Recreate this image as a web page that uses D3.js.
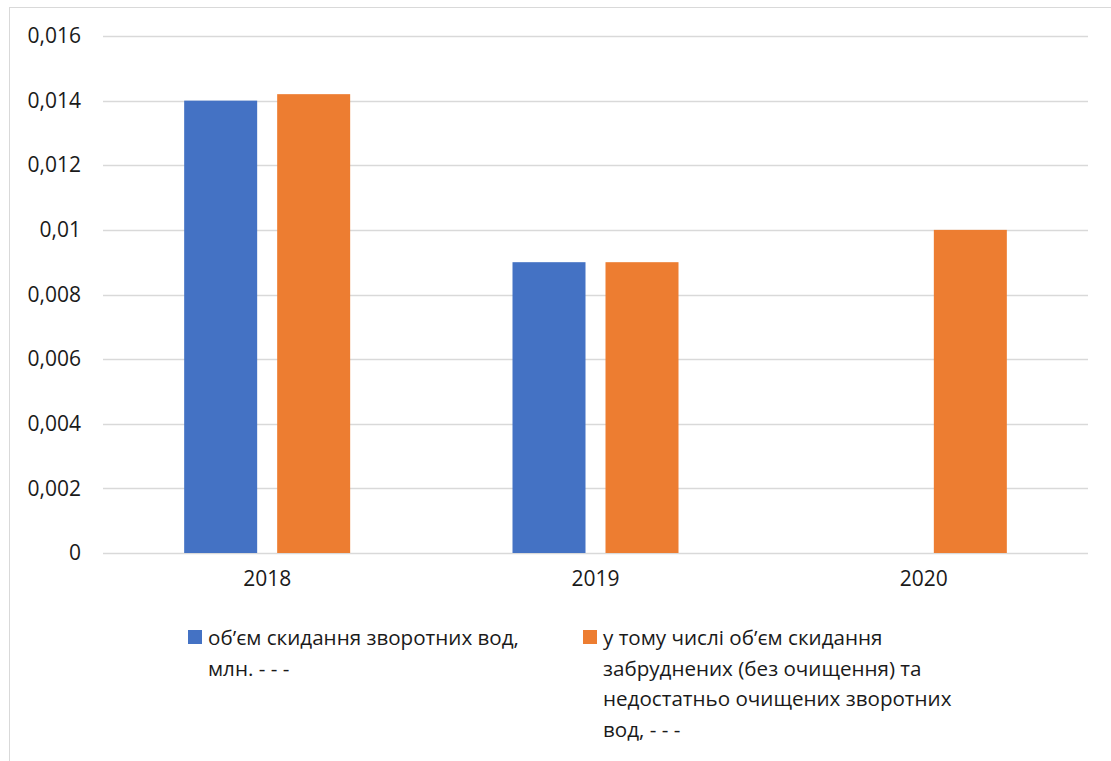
<!DOCTYPE html>
<html>
<head>
<meta charset="utf-8">
<script src="https://cdn.jsdelivr.net/npm/d3@7"></script>
<style>
  html, body { margin: 0; padding: 0; background: #fff; }
  svg { display: block; }
  text { font-family: "Open Sans", "Noto Sans", sans-serif; fill: #1a1a1a; }
</style>
</head>
<body>
<svg id="chart" width="1111" height="761"></svg>
<script>
// Years on the category axis
const years = ["2018", "2019", "2020"];
// Volume of return-water discharge, mln (no value reported for 2020)
const totalDischarge = [0.014, 0.009, null];
// Of which polluted (untreated) and insufficiently treated return waters
const pollutedDischarge = [0.0142, 0.009, 0.01];
// Value-axis tick labels
const yTicks = [0, 0.002, 0.004, 0.006, 0.008, 0.01, 0.012, 0.014, 0.016];
const yTickLabels = ["0", "0,002", "0,004", "0,006", "0,008", "0,01", "0,012", "0,014", "0,016"];
// Legend entries, already wrapped into lines
const seriesNames = [
  ["об’єм скидання зворотних вод,", "млн. - - -"],
  ["у тому числі об’єм скидання", "забруднених (без очищення) та", "недостатньо очищених зворотних", "вод, - - -"]
];
const seriesColors = ["#4472c4", "#ed7d31"];

const svg = d3.select("#chart");

// outer chart-area border (runs off the right and bottom edges)
svg.append("rect")
  .attr("x", 9.5).attr("y", 7.5)
  .attr("width", 1130).attr("height", 800)
  .attr("fill", "#fff").attr("stroke", "#d9d9d9").attr("stroke-width", 1);

const plot = { left: 103, right: 1088, top: 36, bottom: 553 };

const x = d3.scaleBand().domain(years)
  .range([plot.left, plot.right]).paddingInner(0).paddingOuter(0);
const y = d3.scaleLinear().domain([0, 0.016]).range([plot.bottom, plot.top]);

// horizontal gridlines
svg.append("g")
  .selectAll("line").data(yTicks).join("line")
  .attr("x1", plot.left).attr("x2", plot.right)
  .attr("y1", d => Math.round(y(d)) + 0.5).attr("y2", d => Math.round(y(d)) + 0.5)
  .attr("stroke", "#d9d9d9").attr("stroke-width", 1.5);

// y axis labels
const yAxis = d3.axisLeft(y).tickValues(yTicks)
  .tickFormat((d, i) => yTickLabels[i]).tickSize(0).tickPadding(0);
svg.append("g")
  .attr("transform", `translate(${plot.left - 22},0)`)
  .call(yAxis)
  .call(g => g.select(".domain").remove())
  .call(g => g.selectAll("text")
    .attr("font-family", "Open Sans, sans-serif")
    .attr("font-size", 21).attr("fill", "#1a1a1a"));

// x axis labels
const xAxis = d3.axisBottom(x).tickSize(0).tickPadding(0);
svg.append("g")
  .attr("transform", `translate(0,${plot.bottom + 18})`)
  .call(xAxis)
  .call(g => g.select(".domain").remove())
  .call(g => g.selectAll("text")
    .attr("font-family", "Open Sans, sans-serif")
    .attr("font-size", 21).attr("fill", "#1a1a1a"));

// bars: two series grouped inside each year band
const barW = 73, gap = 20;
const series = [totalDischarge, pollutedDischarge];
series.forEach((vals, s) => {
  svg.append("g")
    .selectAll("rect")
    .data(years.map((yr, i) => ({ yr, v: vals[i] })).filter(d => d.v != null))
    .join("rect")
    .attr("x", d => x(d.yr) + x.bandwidth() / 2 - (2 * barW + gap) / 2 + s * (barW + gap))
    .attr("width", barW)
    .attr("y", d => y(d.v))
    .attr("height", d => y(0) - y(d.v))
    .attr("fill", seriesColors[s]);
});

// legend
const legendX = [188, 583];
const lineH = 30.7;
seriesNames.forEach((lines, s) => {
  const g = svg.append("g").attr("transform", `translate(${legendX[s]},630)`);
  g.append("rect").attr("x", 0).attr("y", 0).attr("width", 14).attr("height", 14)
    .attr("fill", seriesColors[s]);
  g.append("text")
    .attr("font-size", 20.6)
    .selectAll("tspan").data(lines).join("tspan")
    .attr("x", 20).attr("y", (d, i) => 15 + i * lineH)
    .text(d => d);
});
</script>
</body>
</html>
